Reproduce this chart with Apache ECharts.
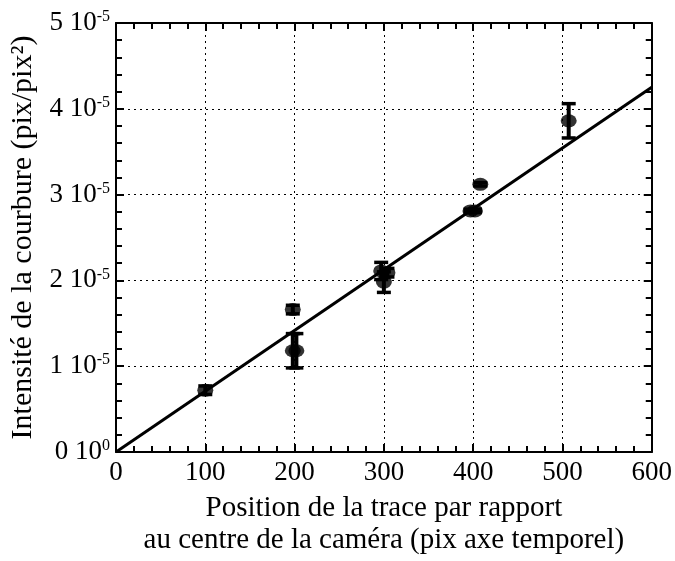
<!DOCTYPE html>
<html>
<head>
<meta charset="utf-8">
<script src="https://cdn.jsdelivr.net/npm/echarts@6/dist/echarts.min.js"></script>
<style>html,body{margin:0;padding:0;background:#fff}#c{width:675px;height:561px}</style>
</head>
<body>
<div id="c"></div>
<script>
// Position (pix) and curvature intensity in units of 1e-5 pix/pix^2
var positions = [100, 198, 198, 202, 297, 304, 300, 397, 402, 408, 507];
var intensity_e5 = [0.72, 1.66, 1.18, 1.18, 2.11, 2.09, 1.98, 2.81, 2.81, 3.12, 3.86];
var errors_e5 = [0.05, 0.05, 0.2, 0.2, 0.1, 0.05, 0.12, 0.02, 0.02, 0.02, 0.2];
var fitX = [0, 600];
var fitY_e5 = [0, 4.25];
var xTicks = [0, 100, 200, 300, 400, 500, 600];
var yTicks = [0, 1, 2, 3, 4, 5];
var xTitle = 'Position de la trace par rapport\nau centre de la caméra (pix axe temporel)';
var yTitle = 'Intensité de la courbure (pix/pix²)';

var FONT = 'Liberation Serif';
var chart = echarts.init(document.getElementById('c'));

var pts = positions.map(function (x, i) { return [x, intensity_e5[i], errors_e5[i]]; });
var fit = fitX.map(function (x, i) { return [x, fitY_e5[i]]; });

function axisCommon() {
  return {
    axisLine: { show: true, onZero: false, lineStyle: { color: '#000', width: 2 } },
    axisTick: { show: true, inside: true, length: 8, lineStyle: { color: '#000', width: 2 } },
    minorTick: { show: true, splitNumber: 5, length: 6, lineStyle: { color: '#000', width: 2 } },
    axisLabel: { show: false }
  };
}

var xBottom = Object.assign(axisCommon(), {
  type: 'value', position: 'bottom', min: xTicks[0], max: xTicks[xTicks.length - 1], interval: 100,
  splitLine: { show: true, lineStyle: { color: '#000', type: [2, 4], width: 1 } },
  name: xTitle, nameLocation: 'middle', nameGap: 40,
  nameTextStyle: { fontFamily: FONT, fontSize: 29, color: '#000', lineHeight: 32, verticalAlign: 'top' }
});
xBottom.axisLabel = { show: true, fontFamily: FONT, fontSize: 27, color: '#000', margin: 7 };
var xTop = Object.assign(axisCommon(), {
  type: 'value', position: 'top', min: 0, max: 600, interval: 100, splitLine: { show: false }
});

var yLeft = Object.assign(axisCommon(), {
  type: 'value', position: 'left', min: yTicks[0], max: yTicks[yTicks.length - 1], interval: 1,
  splitLine: { show: true, lineStyle: { color: '#000', type: [2, 4], width: 1 } },
  name: yTitle, nameLocation: 'middle', nameGap: 68, nameRotate: 90,
  nameTextStyle: { fontFamily: FONT, fontSize: 30, color: '#000' }
});
yLeft.axisLabel = {
  show: true, margin: 6, color: '#000',
  formatter: function (v) {
    return '{b|' + v + ' 10}{s|' + (v === 0 ? '0' : '-5') + '}';
  },
  rich: {
    b: { fontFamily: FONT, fontSize: 27, color: '#000', lineHeight: 28 },
    s: { fontFamily: FONT, fontSize: 16, color: '#000', verticalAlign: 'top', lineHeight: 28, padding: [0, 0, 16, 0] }
  }
};
var yRight = Object.assign(axisCommon(), {
  type: 'value', position: 'right', min: 0, max: 5, interval: 1, splitLine: { show: false }
});

chart.setOption({
  animation: false,
  backgroundColor: '#fff',
  grid: { left: 116, top: 23, width: 539, height: 432, containLabel: false },
  xAxis: [xBottom, xTop],
  yAxis: [yLeft, yRight],
  series: [
    {
      type: 'line', data: fit, xAxisIndex: 0, yAxisIndex: 0, symbol: 'none',
      lineStyle: { color: '#000', width: 3 }, z: 3
    },
    {
      type: 'custom', xAxisIndex: 0, yAxisIndex: 0, data: pts, z: 4,
      renderItem: function (params, api) {
        var x = api.value(0), y = api.value(1), e = api.value(2);
        var top = api.coord([x, y + e]);
        var bot = api.coord([x, y - e]);
        var hw = 7;
        var cap = { stroke: '#000', lineWidth: 3.5 };
        return {
          type: 'group',
          children: [
            { type: 'line', shape: { x1: top[0], y1: top[1], x2: bot[0], y2: bot[1] }, style: { stroke: '#000', lineWidth: 4 } },
            { type: 'line', shape: { x1: top[0] - hw, y1: top[1], x2: top[0] + hw, y2: top[1] }, style: cap },
            { type: 'line', shape: { x1: bot[0] - hw, y1: bot[1], x2: bot[0] + hw, y2: bot[1] }, style: cap }
          ]
        };
      }
    },
    {
      type: 'scatter', data: pts, xAxisIndex: 0, yAxisIndex: 0, z: 5,
      symbol: 'path://M0,6A7.5,6 0 1,0 15,6A7.5,6 0 1,0 0,6Z', symbolKeepAspect: false,
      symbolSize: [16, 13], itemStyle: { color: '#000' }
    }
  ]
});
</script>
</body>
</html>
